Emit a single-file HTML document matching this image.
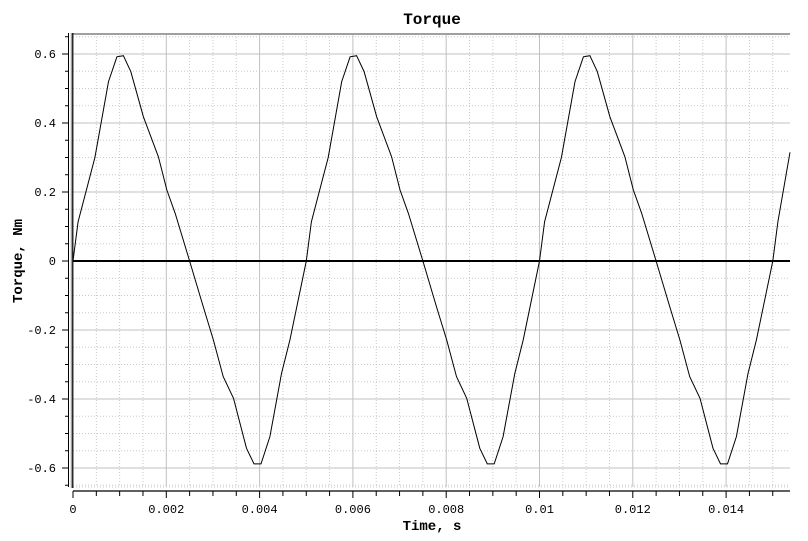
<!DOCTYPE html>
<html><head><meta charset="utf-8"><style>
body{margin:0;background:#fff;}
svg text{font-family:"Liberation Mono",monospace;fill:#000;}
</style></head><body>
<svg id="c" width="808" height="536" xmlns="http://www.w3.org/2000/svg"></svg>
<script>
const times = [0,0.00011,0.00047,0.00076,0.00094,0.00108,0.00124,0.00151,0.00183,0.00201,0.00219,0.0025,0.00279,0.00301,0.00322,0.00344,0.00372,0.00388,0.00403,0.00422,0.00447,0.00465,
0.005,0.00511,0.00547,0.00576,0.00594,0.00608,0.00624,0.00651,0.00683,0.00701,0.00719,0.0075,0.00779,0.00801,0.00822,0.00844,0.00872,0.00888,0.00903,0.00922,0.00947,0.00965,
0.01,0.01011,0.01047,0.01076,0.01094,0.01108,0.01124,0.01151,0.01183,0.01201,0.01219,0.0125,0.01279,0.01301,0.01322,0.01344,0.01372,0.01388,0.01403,0.01422,0.01447,0.01465,
0.015,0.01511,0.01537];
const torque = [0,0.114,0.30,0.52,0.592,0.595,0.549,0.418,0.302,0.206,0.138,0,-0.132,-0.229,-0.335,-0.398,-0.543,-0.588,-0.588,-0.509,-0.326,-0.229,
0,0.114,0.30,0.52,0.592,0.595,0.549,0.418,0.302,0.206,0.138,0,-0.132,-0.229,-0.335,-0.398,-0.543,-0.588,-0.588,-0.509,-0.326,-0.229,
0,0.114,0.30,0.52,0.592,0.595,0.549,0.418,0.302,0.206,0.138,0,-0.132,-0.229,-0.335,-0.398,-0.543,-0.588,-0.588,-0.509,-0.326,-0.229,
0,0.114,0.315];
const xTicks = [0,0.002,0.004,0.006,0.008,0.01,0.012,0.014];
const xTickLabels = ["0","0.002","0.004","0.006","0.008","0.01","0.012","0.014"];
const yTicks = [-0.6,-0.4,-0.2,0,0.2,0.4,0.6];
const yTickLabels = ["-0.6","-0.4","-0.2","0","0.2","0.4","0.6"];

const L=73,R=790,T=34,B=487;
const X=t=>73+t*46650;
const Y=v=>261-v*345;
const svg=document.getElementById('c');
const NS='http://www.w3.org/2000/svg';
function mk(tag,attrs,parent){const e=document.createElementNS(NS,tag);for(const k in attrs)e.setAttribute(k,attrs[k]);(parent||svg).appendChild(e);return e;}

const grid=mk('g',{});


for(let i=1;i<31;i++){const t=i*0.0005;const x=X(t);if(x>R)break;
 const major=i%4===0;
 mk('line',{x1:x,x2:x,y1:T,y2:B,stroke:major?'#c0c0c0':'#c8c8c8','stroke-width':1,'stroke-dasharray':major?'':'1,2'},grid);}
for(let i=-13;i<=13;i++){const v=i*0.05;const y=Y(v);if(y<T+1||y>B)continue;if(i===0)continue;
 const major=i%4===0;
 mk('line',{x1:L,x2:R,y1:y,y2:y,stroke:major?'#c0c0c0':'#c8c8c8','stroke-width':1,'stroke-dasharray':major?'':'1,2'},grid);}
mk('line',{x1:L,x2:R,y1:B,y2:B,stroke:'#c8c8c8','stroke-dasharray':'1,2'},grid);

// frame
mk('line',{x1:L-1,x2:R,y1:T,y2:T,stroke:'#a0a0a0','stroke-width':2});
mk('line',{x1:71.5,x2:71.5,y1:T-1,y2:B+1,stroke:'#a0a0a0','stroke-width':1.5});
mk('line',{x1:72.8,x2:72.8,y1:T-1,y2:B+1,stroke:'#000','stroke-width':1.2});
// zero line
const z=mk('line',{x1:L,x2:R,y1:Y(0),y2:Y(0),stroke:'#000','stroke-width':2});



// series
const pts=times.map((t,i)=>X(t).toFixed(1)+','+Y(torque[i]).toFixed(1)).join(' ');
const line=mk('polyline',{points:pts,fill:'none',stroke:'#000','stroke-width':1});



// y axis
const ya=mk('g',{});


mk('line',{x1:68.5,x2:68.5,y1:T-1,y2:B,stroke:'#000','stroke-width':1},ya);
for(let i=-13;i<=13;i++){const y=Y(i*0.05);if(y<T-1||y>B+1)continue;mk('line',{x1:i%4===0?62:65,x2:68.5,y1:y,y2:y,stroke:'#000'},ya);}
yTicks.forEach((v,i)=>{const t=mk('text',{x:56,y:Y(v)+4,'text-anchor':'end','font-size':12},ya);t.textContent=yTickLabels[i];
 
 });
// x axis
const xa=mk('g',{});


mk('line',{x1:L,x2:R,y1:491,y2:491,stroke:'#000','stroke-width':1.2},xa);
for(let i=0;i<31;i++){const x=X(i*0.0005);if(x>R)break;mk('line',{x1:x,x2:x,y1:491,y2:i%4===0?498:496,stroke:'#000'},xa);}
xTicks.forEach((v,i)=>{const t=mk('text',{x:X(v),y:513,'text-anchor':'middle','font-size':12},xa);t.textContent=xTickLabels[i];
 
 });

const title=mk('text',{x:432,y:24,'text-anchor':'middle','font-size':16,'font-weight':'bold'});
title.textContent='Torque';


const xl=mk('text',{x:432,y:530,'text-anchor':'middle','font-size':14,'font-weight':'bold'});
xl.textContent='Time, s';


const yl=mk('text',{x:0,y:0,'text-anchor':'middle','font-size':14,'font-weight':'bold',transform:'translate(22,261) rotate(-90)'});
yl.textContent='Torque, Nm';


</script>
</body></html>
